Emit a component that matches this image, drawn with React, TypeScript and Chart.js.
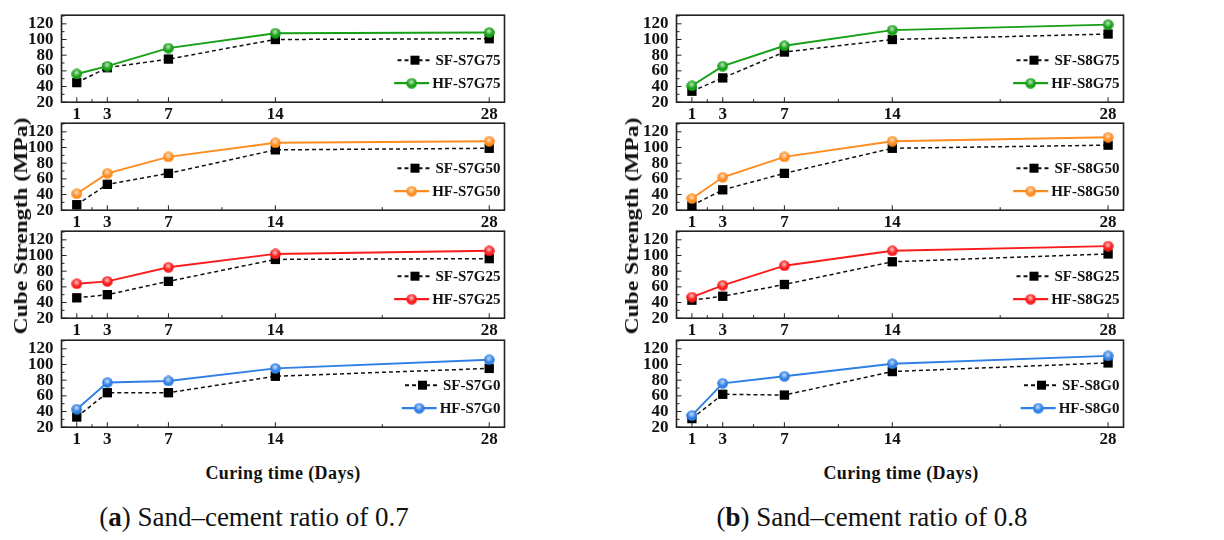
import { useEffect, useRef } from 'react';
import { Chart, registerables } from 'chart.js';

Chart.register(...registerables);

// x positions (days) and tick values
const days = [1, 3, 7, 14, 28];
const xMinorTicks = [2, 5, 10.5, 21];
const yTicks = [20, 40, 60, 80, 100, 120];
const yMinorTicks = [30, 50, 70, 90, 110, 130];

// sand-cement ratio 0.7
const sfS7G75 = [45, 64, 75, 100, 101];
const hfS7G75 = [56, 66, 89, 108, 109];
const sfS7G50 = [27, 53, 67, 97, 99];
const hfS7G50 = [41, 67, 88, 106, 108];
const sfS7G25 = [46, 50, 67, 95, 96];
const hfS7G25 = [64, 67, 85, 102, 106];
const sfS7G0 = [33, 64, 64, 85, 95];
const hfS7G0 = [43, 77, 79, 95, 106];

// sand-cement ratio 0.8
const sfS8G75 = [34, 51, 84, 100, 107];
const hfS8G75 = [41, 66, 92, 112, 119];
const sfS8G50 = [26, 46, 67, 99, 103];
const hfS8G50 = [35, 62, 88, 108, 113];
const sfS8G25 = [43, 48, 63, 92, 102];
const hfS8G25 = [47, 62, 87, 106, 112];
const sfS8G0 = [31, 62, 61, 91, 102];
const hfS8G0 = [35, 76, 85, 101, 111];

const FONT = '"Liberation Serif", "Times New Roman", serif';
const GREEN = '#15a015';
const ORANGE = '#ff8c1f';
const RED = '#fa1c1c';
const BLUE = '#2f7fe6';

const PLOT_H = 87;
const LEGEND_ROWS = [45, 68];

// small shaded ball used as the HF marker
function makeBall(color: string) {
  const c = document.createElement('canvas');
  c.width = 11;
  c.height = 11;
  const g = c.getContext('2d')!;
  g.fillStyle = color;
  g.beginPath();
  g.arc(5.5, 5.5, 5.3, 0, Math.PI * 2);
  g.fill();
  const grad = g.createRadialGradient(5.2, 4.2, 0, 5.2, 4.2, 4);
  grad.addColorStop(0, 'rgba(255,255,255,0.75)');
  grad.addColorStop(1, 'rgba(255,255,255,0)');
  g.fillStyle = grad;
  g.beginPath();
  g.arc(5.5, 5.5, 5.3, 0, Math.PI * 2);
  g.fill();
  return c;
}

const framePlugin = {
  id: 'frame',
  beforeDatasetsDraw(chart: any) {
    const { ctx, chartArea: ca, scales } = chart;
    ctx.save();
    ctx.strokeStyle = '#222';
    ctx.lineWidth = 1;
    ctx.beginPath();
    days.forEach((d) => {
      const x = scales.x.getPixelForValue(d);
      ctx.moveTo(x, ca.bottom);
      ctx.lineTo(x, ca.bottom - 5);
    });
    xMinorTicks.forEach((d) => {
      const x = scales.x.getPixelForValue(d);
      ctx.moveTo(x, ca.bottom);
      ctx.lineTo(x, ca.bottom - 3);
    });
    yTicks.forEach((v) => {
      const y = scales.y.getPixelForValue(v);
      ctx.moveTo(ca.left, y);
      ctx.lineTo(ca.left + 5, y);
    });
    yMinorTicks.forEach((v) => {
      const y = scales.y.getPixelForValue(v);
      ctx.moveTo(ca.left, y);
      ctx.lineTo(ca.left + 3, y);
    });
    ctx.stroke();
    ctx.lineWidth = 1.6;
    ctx.strokeRect(ca.left, ca.top, ca.right - ca.left, ca.bottom - ca.top);
    ctx.restore();
  },
  afterDatasetsDraw(chart: any) {
    const { ctx, chartArea: ca } = chart;
    ctx.save();
    ctx.font = `bold 15px ${FONT}`;
    ctx.textBaseline = 'middle';
    ctx.textAlign = 'left';
    chart.data.datasets.forEach((ds: any, i: number) => {
      const y = ca.top + LEGEND_ROWS[i];
      const w = ctx.measureText(ds.label).width;
      const tx = ca.right - 4 - w;
      const x1 = tx - 3;
      const x0 = x1 - 35;
      ctx.strokeStyle = ds.borderColor;
      ctx.lineWidth = ds.borderWidth + 0.4;
      ctx.setLineDash(ds.borderDash || []);
      ctx.beginPath();
      ctx.moveTo(x0, y);
      ctx.lineTo(x1, y);
      ctx.stroke();
      ctx.setLineDash([]);
      const cx = (x0 + x1) / 2;
      if (ds.pointStyle === 'rect') {
        ctx.fillStyle = ds.pointBackgroundColor;
        ctx.fillRect(cx - 4.5, y - 4.5, 9, 9);
      } else {
        ctx.drawImage(ds.pointStyle, cx - 5.5, y - 5.5);
      }
      ctx.fillStyle = '#111';
      ctx.fillText(ds.label, tx, y + 1);
    });
    ctx.restore();
  },
};

interface SubplotProps {
  left: number;
  top: number;
  width: number;
  sf: number[];
  hf: number[];
  sfLabel: string;
  hfLabel: string;
  color: string;
}

function Subplot({ left, top, width, sf, hf, sfLabel, hfLabel, color }: SubplotProps) {
  const wrapRef = useRef<HTMLDivElement>(null);
  const canvasRef = useRef<HTMLCanvasElement>(null);

  useEffect(() => {
    if (!canvasRef.current || !wrapRef.current) return;
    const ball = makeBall(color);
    const tickFont = { family: FONT, size: 17, weight: 'bold' as const };
    const chart = new Chart(canvasRef.current, {
      type: 'line',
      data: {
        datasets: [
          {
            label: sfLabel,
            data: days.map((d, i) => ({ x: d, y: sf[i] })),
            borderColor: '#111',
            borderWidth: 1.5,
            borderDash: [4, 3],
            pointStyle: 'rect',
            pointRadius: 6.6,
            pointBackgroundColor: '#000',
            pointBorderWidth: 0,
            order: 1,
            clip: false,
          },
          {
            label: hfLabel,
            data: days.map((d, i) => ({ x: d, y: hf[i] })),
            borderColor: color,
            borderWidth: 1.9,
            pointStyle: ball,
            pointRadius: 5.5,
            order: 0,
            clip: false,
          },
        ],
      },
      options: {
        responsive: true,
        maintainAspectRatio: false,
        animation: false,
        layout: { padding: { top: 12, right: 10, left: 0, bottom: 0 } },
        plugins: { legend: { display: false }, tooltip: { enabled: false } },
        scales: {
          x: {
            type: 'linear',
            min: 0,
            max: 29,
            grid: { display: false, drawTicks: false },
            border: { display: false },
            afterBuildTicks: (s: any) => {
              s.ticks = days.map((v) => ({ value: v }));
            },
            ticks: { autoSkip: false, maxRotation: 0, padding: 2, color: '#111', font: tickFont },
          },
          y: {
            type: 'linear',
            min: 20,
            max: 131,
            grid: { display: false, drawTicks: false },
            border: { display: false },
            afterBuildTicks: (s: any) => {
              s.ticks = yTicks.map((v) => ({ value: v }));
            },
            ticks: { autoSkip: false, padding: 8, color: '#111', font: tickFont },
          },
        },
      },
      plugins: [framePlugin],
    });

    // shift and resize the wrapper so the plot area lands on the wanted box
    const ca = chart.chartArea;
    const padL = ca.left;
    const padT = ca.top;
    const padR = chart.width - ca.right;
    const padB = chart.height - ca.bottom;
    const el = wrapRef.current;
    el.style.left = `${left - padL}px`;
    el.style.top = `${top - padT}px`;
    el.style.width = `${width + padL + padR}px`;
    el.style.height = `${PLOT_H + padT + padB}px`;
    chart.resize();

    return () => chart.destroy();
  }, [left, top, width, sf, hf, sfLabel, hfLabel, color]);

  return (
    <div
      ref={wrapRef}
      style={{
        position: 'absolute',
        left: left - 50,
        top: top - 12,
        width: width + 60,
        height: PLOT_H + 40,
      }}
    >
      <canvas ref={canvasRef} />
    </div>
  );
}

const PLOT_TOPS = [15, 123, 231, 340];

function Panel({
  left,
  width,
  groups,
  ratio,
  letter,
  yTitleX,
  xTitleX,
  captionX,
}: {
  left: number;
  width: number;
  groups: { sf: number[]; hf: number[]; sfLabel: string; hfLabel: string; color: string }[];
  ratio: string;
  letter: string;
  yTitleX: number;
  xTitleX: number;
  captionX: number;
}) {
  return (
    <>
      {groups.map((g, i) => (
        <Subplot key={g.sfLabel} left={left} top={PLOT_TOPS[i]} width={width} {...g} />
      ))}
      <div
        style={{
          position: 'absolute',
          left: yTitleX,
          top: 226,
          transform: 'translate(-50%, -50%) rotate(-90deg) scaleX(1.24)',
          whiteSpace: 'nowrap',
          font: `bold 19px ${FONT}`,
          color: '#111',
        }}
      >
        Cube Strength (MPa)
      </div>
      <div
        style={{
          position: 'absolute',
          left: xTitleX,
          top: 473,
          transform: 'translate(-50%, -50%)',
          whiteSpace: 'nowrap',
          font: `bold 18px ${FONT}`,
          letterSpacing: '0.4px',
          color: '#111',
        }}
      >
        Curing time (Days)
      </div>
      <div
        style={{
          position: 'absolute',
          left: captionX,
          top: 517,
          transform: 'translate(-50%, -50%)',
          whiteSpace: 'nowrap',
          font: `27px ${FONT}`,
          color: '#111',
        }}
      >
        (<b>{letter}</b>) Sand–cement ratio of {ratio}
      </div>
    </>
  );
}

export default function App() {
  const groupsA = [
    { sf: sfS7G75, hf: hfS7G75, sfLabel: 'SF-S7G75', hfLabel: 'HF-S7G75', color: GREEN },
    { sf: sfS7G50, hf: hfS7G50, sfLabel: 'SF-S7G50', hfLabel: 'HF-S7G50', color: ORANGE },
    { sf: sfS7G25, hf: hfS7G25, sfLabel: 'SF-S7G25', hfLabel: 'HF-S7G25', color: RED },
    { sf: sfS7G0, hf: hfS7G0, sfLabel: 'SF-S7G0', hfLabel: 'HF-S7G0', color: BLUE },
  ];
  const groupsB = [
    { sf: sfS8G75, hf: hfS8G75, sfLabel: 'SF-S8G75', hfLabel: 'HF-S8G75', color: GREEN },
    { sf: sfS8G50, hf: hfS8G50, sfLabel: 'SF-S8G50', hfLabel: 'HF-S8G50', color: ORANGE },
    { sf: sfS8G25, hf: hfS8G25, sfLabel: 'SF-S8G25', hfLabel: 'HF-S8G25', color: RED },
    { sf: sfS8G0, hf: hfS8G0, sfLabel: 'SF-S8G0', hfLabel: 'HF-S8G0', color: BLUE },
  ];

  return (
    <div
      style={{
        position: 'fixed',
        left: 0,
        top: 0,
        width: 1224,
        height: 540,
        background: '#fff',
        overflow: 'hidden',
      }}
    >
      <Panel
        left={61}
        width={443}
        groups={groupsA}
        ratio="0.7"
        letter="a"
        yTitleX={21}
        xTitleX={283}
        captionX={254}
      />
      <Panel
        left={676}
        width={447}
        groups={groupsB}
        ratio="0.8"
        letter="b"
        yTitleX={632}
        xTitleX={901}
        captionX={872}
      />
    </div>
  );
}
